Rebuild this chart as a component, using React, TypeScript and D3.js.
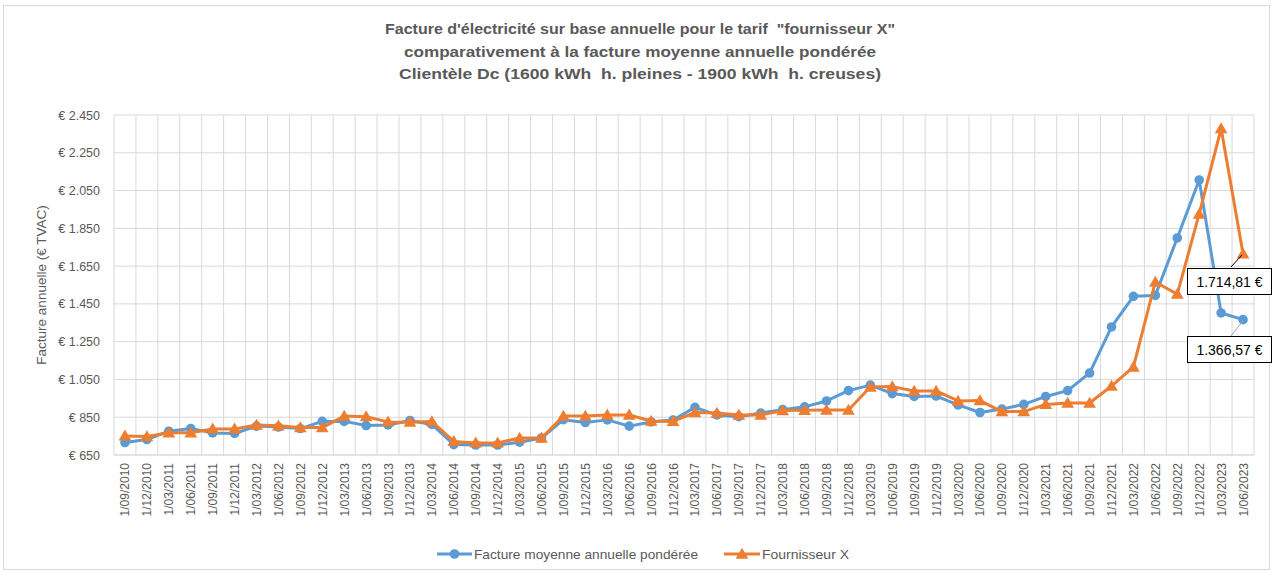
import React from "react";
import * as d3 from "d3";

const categories: string[] = [
  "1/09/2010","1/12/2010",
  "1/03/2011","1/06/2011","1/09/2011","1/12/2011",
  "1/03/2012","1/06/2012","1/09/2012","1/12/2012",
  "1/03/2013","1/06/2013","1/09/2013","1/12/2013",
  "1/03/2014","1/06/2014","1/09/2014","1/12/2014",
  "1/03/2015","1/06/2015","1/09/2015","1/12/2015",
  "1/03/2016","1/06/2016","1/09/2016","1/12/2016",
  "1/03/2017","1/06/2017","1/09/2017","1/12/2017",
  "1/03/2018","1/06/2018","1/09/2018","1/12/2018",
  "1/03/2019","1/06/2019","1/09/2019","1/12/2019",
  "1/03/2020","1/06/2020","1/09/2020","1/12/2020",
  "1/03/2021","1/06/2021","1/09/2021","1/12/2021",
  "1/03/2022","1/06/2022","1/09/2022","1/12/2022",
  "1/03/2023","1/06/2023",
];

const moyenne: number[] = [
  716, 732, 776, 790, 767, 764, 803, 798, 790, 828,
  828, 806, 809, 833, 812, 705, 703, 703, 718, 740,
  837, 822, 836, 803, 825, 835, 902, 862, 853, 872,
  890, 905, 936, 991, 1020, 975, 960, 962, 915, 875,
  893, 918, 960, 991, 1084, 1328, 1490, 1495, 1799, 2106,
  1402, 1366.57,
];

const fournisseur: number[] = [
  751, 748, 768, 768, 788, 788, 809, 805, 795, 795,
  856, 853, 825, 824, 827, 722, 714, 714, 740, 740,
  856, 856, 862, 862, 830, 828, 875, 872, 862, 862,
  885, 887, 888, 888, 1010, 1012, 989, 989, 936, 938,
  880, 880, 918, 925, 925, 1015, 1116, 1566, 1502, 1926,
  2378, 1714.81,
];

const yTicks: number[] = [650, 850, 1050, 1250, 1450, 1650, 1850, 2050, 2250, 2450];

const titleLines: string[] = [
  "Facture d'électricité sur base annuelle pour le tarif  \"fournisseur X\"",
  "comparativement à la facture moyenne annuelle pondérée",
  "Clientèle Dc (1600 kWh  h. pleines - 1900 kWh  h. creuses)",
];

const seriesNames: string[] = ["Facture moyenne annuelle pondérée", "Fournisseur X"];

const W = 1276;
const H = 573;
const M = { left: 114, right: 1254, top: 115, bottom: 455 };
const BLUE = "#5B9BD5";
const ORANGE = "#ED7D31";
const FONT = "'Liberation Sans', Arial, sans-serif";

const fmtEuro = (v: number) => "€ " + v.toLocaleString("de-DE");
const fmtLabel = (v: number) =>
  v.toLocaleString("de-DE", { minimumFractionDigits: 2, maximumFractionDigits: 2 }) + " €";

export default function App() {
  const x = d3.scaleBand<string>().domain(categories).range([M.left, M.right]).padding(0);
  const y = d3.scaleLinear().domain([650, 2450]).range([M.bottom, M.top]);
  const cx = (i: number) => (x(categories[i]) as number) + x.bandwidth() / 2;

  const line = d3
    .line<number>()
    .x((_, i) => cx(i))
    .y((d) => y(d));

  const tri = d3.symbol().type(d3.symbolTriangle).size(70)() as string;

  const boundaries = categories.map((c) => x(c) as number).concat([M.right]);

  const lastI = categories.length - 1;
  const px = cx(lastI);

  return (
    <svg
      width={W}
      height={H}
      style={{ position: "absolute", left: 0, top: 0, background: "#fff" }}
      fontFamily={FONT}
    >
      <rect x={3.5} y={5.5} width={1266} height={564} fill="#fff" stroke="#D9D9D9" />
      {/* title */}
      {titleLines.map((t, i) => (
        <text
          key={i}
          x={640}
          y={34 + i * 22.5}
          textAnchor="middle"
          fontSize={14}
          fontWeight="bold"
          fill="#595959"
          style={{ whiteSpace: "pre" }}
          textLength={[510, 472, 482][i]}
          lengthAdjust="spacingAndGlyphs"
        >
          {t}
        </text>
      ))}
      {/* grid */}
      {yTicks.map((t) => (
        <line key={"h" + t} x1={M.left} x2={M.right} y1={y(t)} y2={y(t)} stroke="#D9D9D9" strokeWidth={1} />
      ))}
      {boundaries.map((b, i) => (
        <line key={"v" + i} x1={b} x2={b} y1={M.top} y2={M.bottom} stroke="#D9D9D9" strokeWidth={1} />
      ))}
      <line x1={M.left} x2={M.right} y1={M.bottom} y2={M.bottom} stroke="#D9D9D9" strokeWidth={1} />
      {/* y ticks */}
      {yTicks.map((t) => (
        <text key={"yt" + t} x={100} y={y(t) + 4.5} textAnchor="end" fontSize={12.5} fill="#595959">
          {fmtEuro(t)}
        </text>
      ))}
      <text
        transform={`translate(46,${(M.top + M.bottom) / 2}) rotate(-90)`}
        textAnchor="middle"
        fontSize={13.5}
        fill="#595959"
      >
        Facture annuelle (€ TVAC)
      </text>
      {/* x labels */}
      {categories.map((c, i) => (
        <text
          key={"xl" + i}
          transform={`translate(${cx(i) + 4.5},${M.bottom + 8}) rotate(-90)`}
          textAnchor="end"
          fontSize={12}
          fill="#595959"
        >
          {c}
        </text>
      ))}
      {/* series */}
      <path d={line(moyenne) as string} fill="none" stroke={BLUE} strokeWidth={3} strokeLinejoin="round" />
      {moyenne.map((v, i) => (
        <circle key={"b" + i} cx={cx(i)} cy={y(v)} r={4.8} fill={BLUE} />
      ))}
      <path d={line(fournisseur) as string} fill="none" stroke={ORANGE} strokeWidth={3} strokeLinejoin="round" />
      {fournisseur.map((v, i) => (
        <path key={"o" + i} d={tri} transform={`translate(${cx(i)},${y(v) + 1})`} fill={ORANGE} />
      ))}
      {/* data labels */}
      <line x1={1231} y1={267} x2={px - 1} y2={y(fournisseur[lastI]) + 1} stroke="#000" strokeWidth={1} />
      <rect x={1187.5} y={268.5} width={84} height={26} fill="#fff" stroke="#000" strokeWidth={1} />
      <text x={1229.5} y={287} textAnchor="middle" fontSize={14} fill="#000">
        {fmtLabel(fournisseur[lastI])}
      </text>
      <line x1={1231} y1={336} x2={px} y2={y(moyenne[lastI]) + 1} stroke="#A6A6A6" strokeWidth={1} />
      <rect x={1187.5} y={336.5} width={84} height={26} fill="#fff" stroke="#000" strokeWidth={1} />
      <text x={1229.5} y={355} textAnchor="middle" fontSize={14} fill="#000">
        {fmtLabel(moyenne[lastI])}
      </text>
      {/* legend */}
      <line x1={437} x2={472} y1={554} y2={554} stroke={BLUE} strokeWidth={3} />
      <circle cx={454.5} cy={554} r={4.8} fill={BLUE} />
      <text x={474} y={558.5} fontSize={13} fill="#595959" textLength={224} lengthAdjust="spacingAndGlyphs">
        {seriesNames[0]}
      </text>
      <line x1={724} x2={760} y1={554} y2={554} stroke={ORANGE} strokeWidth={3} />
      <path d={tri} transform="translate(742,555)" fill={ORANGE} />
      <text x={762} y={558.5} fontSize={13} fill="#595959" textLength={87} lengthAdjust="spacingAndGlyphs">
        {seriesNames[1]}
      </text>
    </svg>
  );
}
